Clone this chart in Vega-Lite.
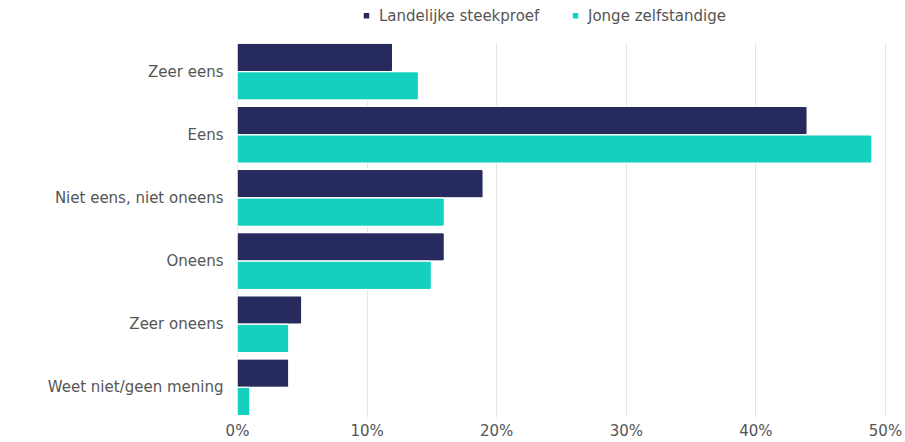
{
  "$schema": "https://vega.github.io/schema/vega-lite/v6.json",
  "autosize": "none",
  "width": 648,
  "height": 375,
  "padding": {"left": 237, "top": 42, "right": 20, "bottom": 25},
  "background": "white",
  "config": {"font": "DejaVu Sans", "view": {"stroke": null}},
  "data": {"values": [
    {"cat": "Zeer eens", "serie": "Landelijke steekproef", "pct": 0.12},
    {"cat": "Zeer eens", "serie": "Jonge zelfstandige", "pct": 0.14},
    {"cat": "Eens", "serie": "Landelijke steekproef", "pct": 0.44},
    {"cat": "Eens", "serie": "Jonge zelfstandige", "pct": 0.49},
    {"cat": "Niet eens, niet oneens", "serie": "Landelijke steekproef", "pct": 0.19},
    {"cat": "Niet eens, niet oneens", "serie": "Jonge zelfstandige", "pct": 0.16},
    {"cat": "Oneens", "serie": "Landelijke steekproef", "pct": 0.16},
    {"cat": "Oneens", "serie": "Jonge zelfstandige", "pct": 0.15},
    {"cat": "Zeer oneens", "serie": "Landelijke steekproef", "pct": 0.05},
    {"cat": "Zeer oneens", "serie": "Jonge zelfstandige", "pct": 0.04},
    {"cat": "Weet niet/geen mening", "serie": "Landelijke steekproef", "pct": 0.04},
    {"cat": "Weet niet/geen mening", "serie": "Jonge zelfstandige", "pct": 0.01}
  ]},
  "mark": {"type": "bar", "stroke": "white", "strokeWidth": 1, "cornerRadiusEnd": 2},
  "encoding": {
    "y": {
      "field": "cat", "type": "nominal", "sort": null, "title": null,
      "scale": {"paddingInner": 0.1, "paddingOuter": 0.02},
      "axis": {"domain": false, "ticks": false, "labelFontSize": 15, "labelColor": "#555555", "labelPadding": 14, "labelLimit": 300}
    },
    "yOffset": {"field": "serie", "type": "nominal", "sort": ["Landelijke steekproef", "Jonge zelfstandige"]},
    "x": {
      "field": "pct", "type": "quantitative", "title": null,
      "scale": {"domain": [0, 0.5], "nice": false},
      "axis": {"format": ".0%", "values": [0, 0.1, 0.2, 0.3, 0.4, 0.5], "domain": false, "ticks": false, "labelFontSize": 15, "labelColor": "#555555", "labelPadding": 6, "gridColor": "#e6e6e6", "labelFlush": false}
    },
    "color": {
      "field": "serie", "type": "nominal", "sort": ["Landelijke steekproef", "Jonge zelfstandige"],
      "scale": {"domain": ["Landelijke steekproef", "Jonge zelfstandige"], "range": ["#272a5c", "#13d1be"]},
      "legend": {"title": null, "orient": "none", "direction": "horizontal", "legendX": 122, "legendY": -34, "symbolType": "square", "symbolSize": 30, "labelFontSize": 15, "labelColor": "#555555", "labelLimit": 400, "columnPadding": 28, "labelOffset": 5, "symbolStrokeWidth": 0}
    }
  }
}
